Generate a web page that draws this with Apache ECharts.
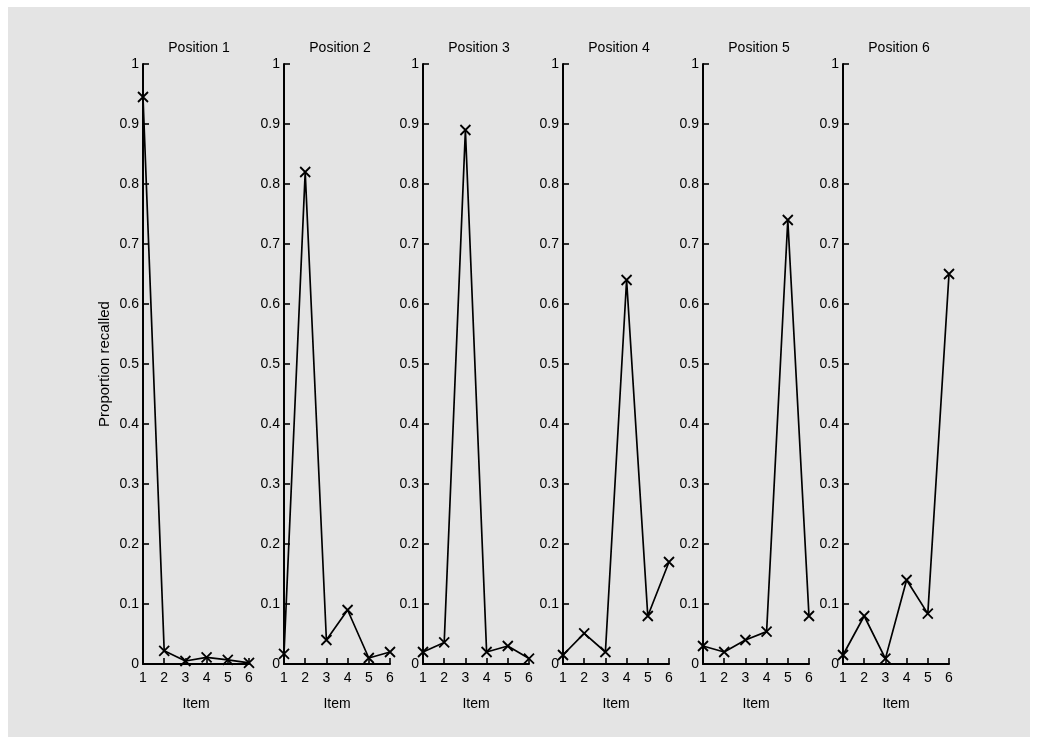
<!DOCTYPE html>
<html>
<head>
<meta charset="utf-8">
<script src="https://cdn.jsdelivr.net/npm/echarts@6/dist/echarts.min.js"></script>
<style>
  html, body { margin: 0; padding: 0; background: #ffffff; }
  #bg { position: absolute; left: 8px; top: 7px; width: 1022px; height: 730px; background: #e4e4e4; }
  #chart { position: absolute; left: 0; top: 0; width: 1037px; height: 744px; }
</style>
</head>
<body>
<div id="bg"></div>
<div id="chart"></div>
<script>
// Serial-position recall: proportion of each item recalled at each output position
const items = [1, 2, 3, 4, 5, 6];
const panelTitles = ['Position 1', 'Position 2', 'Position 3', 'Position 4', 'Position 5', 'Position 6'];
const pos1 = [0.945, 0.022, 0.005, 0.011, 0.007, 0.002];
const pos2 = [0.017, 0.82, 0.04, 0.09, 0.01, 0.02];
const pos3 = [0.02, 0.036, 0.89, 0.02, 0.03, 0.009];
const pos4 = [0.015, 0.051, 0.02, 0.64, 0.08, 0.17];
const pos5 = [0.03, 0.02, 0.04, 0.054, 0.74, 0.08];
const pos6 = [0.015, 0.08, 0.009, 0.14, 0.084, 0.65];
const panels = [pos1, pos2, pos3, pos4, pos5, pos6];

const yLabel = 'Proportion recalled';
const xLabel = 'Item';

// layout of the six small panels
const panelLeft = [143, 284, 423, 563, 703, 843];
const panelWidth = 106;
const panelTop = 64;
const panelHeight = 600;

const font = 'Liberation Sans, Arial, Helvetica, sans-serif';
const ink = '#000000';
const crossMark = 'path://M0,0L10,10M10,0L0,10';

const grids = [], xAxes = [], yAxes = [], series = [], titles = [];
panels.forEach((vals, i) => {
  grids.push({ left: panelLeft[i], top: panelTop, width: panelWidth, height: panelHeight, containLabel: false });
  titles.push({
    text: panelTitles[i],
    left: panelLeft[i] + panelWidth / 2 - 2,
    top: 36,
    textAlign: 'center',
    textStyle: { fontFamily: font, fontSize: 14, fontWeight: 'normal', color: ink }
  });
  xAxes.push({
    type: 'value', gridIndex: i, min: 1, max: 6, interval: 1,
    name: xLabel, nameLocation: 'middle', nameGap: 33,
    nameTextStyle: { fontFamily: font, fontSize: 14, color: ink },
    axisLine: { lineStyle: { color: ink, width: 2 } },
    axisTick: { inside: true, length: 6, lineStyle: { color: ink, width: 1.6 } },
    axisLabel: { fontFamily: font, fontSize: 14, color: ink, margin: 7 },
    splitLine: { show: false }
  });
  yAxes.push({
    type: 'value', gridIndex: i, min: 0, max: 1, interval: 0.1,
    name: i === 0 ? yLabel : '', nameLocation: 'middle', nameGap: 31,
    nameTextStyle: { fontFamily: font, fontSize: 15, color: ink },
    axisLine: { show: true, lineStyle: { color: ink, width: 2 } },
    axisTick: { show: true, inside: true, length: 6, lineStyle: { color: ink, width: 1.6 } },
    axisLabel: {
      fontFamily: font, fontSize: 14, color: ink, margin: 4,
      formatter: v => String(+v.toFixed(1))
    },
    splitLine: { show: false }
  });
  series.push({
    type: 'line', xAxisIndex: i, yAxisIndex: i,
    data: items.map((x, j) => [x, vals[j]]),
    symbol: crossMark, symbolSize: 10, showAllSymbol: true,
    lineStyle: { color: ink, width: 1.7 },
    itemStyle: { color: 'none', borderColor: ink, borderWidth: 1.8 },
    animation: false, silent: true
  });
});

const chart = echarts.init(document.getElementById('chart'), null, { renderer: 'canvas' });
chart.setOption({
  backgroundColor: 'transparent',
  animation: false,
  title: titles,
  grid: grids,
  xAxis: xAxes,
  yAxis: yAxes,
  series: series
});
</script>
</body>
</html>
